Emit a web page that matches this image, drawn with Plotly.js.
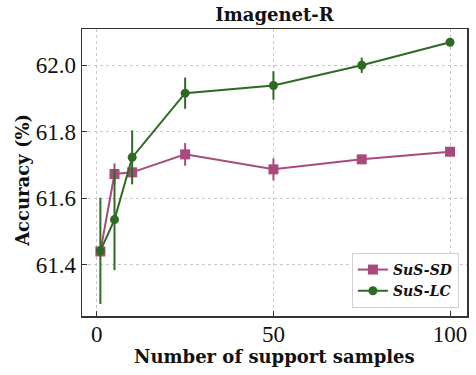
<!DOCTYPE html>
<html>
<head>
<meta charset="utf-8">
<script src="https://cdn.plot.ly/plotly-3.0.1.min.js"></script>
<style>
  body { margin: 0; background: #fff; }
  #chart { width: 476px; height: 375px; }
</style>
</head>
<body>
<div id="chart"></div>
<script>
const samples = [1, 5, 10, 25, 50, 75, 100];

const sdAcc = [61.440, 61.673, 61.678, 61.732, 61.687, 61.717, 61.740];
const sdErr = [0.012, 0.032, 0.010, 0.034, 0.033, 0.008, 0.008];

const lcAcc = [61.442, 61.536, 61.723, 61.916, 61.939, 62.000, 62.069];
const lcErr = [0.160, 0.152, 0.081, 0.047, 0.043, 0.023, 0.006];

const sdColor = '#a84b7c';
const lcColor = '#2e6a24';

const serif = 'Liberation Serif';
const boldSerif = 'DejaVu Serif';

function series(name, y, err, color, symbol, size) {
    return {
        x: samples,
        y: y,
        name: name,
        type: 'scatter',
        mode: 'lines+markers',
        line: { color: color, width: 2 },
        marker: { color: color, symbol: symbol, size: size },
        error_y: { type: 'data', array: err, visible: true, color: color, thickness: 2, width: 0 }
    };
}

const traces = [
    series('<b><i>SuS-SD</i></b>', sdAcc, sdErr, sdColor, 'square', 10),
    series('<b><i>SuS-LC</i></b>', lcAcc, lcErr, lcColor, 'circle', 9)
];

const axisCommon = {
    showline: true,
    mirror: true,
    linecolor: '#333',
    linewidth: 1.5,
    ticks: 'inside',
    ticklen: 5,
    tickcolor: '#333',
    showgrid: true,
    gridcolor: '#c8c8c8',
    griddash: 'dot',
    gridwidth: 1,
    zeroline: false,
    automargin: false,
    tickfont: { family: serif, size: 23, color: '#111' }
};

const titleFont = { family: boldSerif, size: 18, color: '#111' };

const layout = {
    width: 476,
    height: 375,
    margin: { l: 82, r: 9, t: 29, b: 59 },
    paper_bgcolor: '#fff',
    plot_bgcolor: '#fff',
    title: {
        text: '<b>Imagenet-R</b>',
        font: titleFont,
        xref: 'paper', x: 0.5, xanchor: 'center',
        yref: 'container', y: 0.96, yanchor: 'middle'
    },
    xaxis: Object.assign({}, axisCommon, {
        range: [-4.2, 104.8],
        tickvals: [0, 50, 100],
        ticklabelstandoff: -3
    }),
    yaxis: Object.assign({}, axisCommon, {
        range: [61.246, 62.109],
        tickvals: [61.4, 61.6, 61.8, 62.0],
        ticktext: ['61.4', '61.6', '61.8', '62.0']
    }),
    annotations: [
        {
            text: '<b>Number of support samples</b>',
            xref: 'paper', yref: 'paper', x: 0.5, y: -0.14,
            xanchor: 'center', yanchor: 'middle', showarrow: false, font: titleFont
        },
        {
            text: '<b>Accuracy (%)</b>',
            xref: 'paper', yref: 'paper', x: -0.155, y: 0.472, textangle: -90,
            xanchor: 'center', yanchor: 'middle', showarrow: false, font: titleFont
        }
    ],
    legend: {
        x: 0.979, y: 0.028, xanchor: 'right', yanchor: 'bottom',
        bgcolor: 'rgba(255,255,255,0.9)',
        bordercolor: '#d0d0d0',
        borderwidth: 1,
        font: { family: boldSerif, size: 14, color: '#111' },
        tracegroupgap: 2
    },
    showlegend: true
};

Plotly.newPlot('chart', traces, layout, { displayModeBar: false, staticPlot: true });
</script>
</body>
</html>
